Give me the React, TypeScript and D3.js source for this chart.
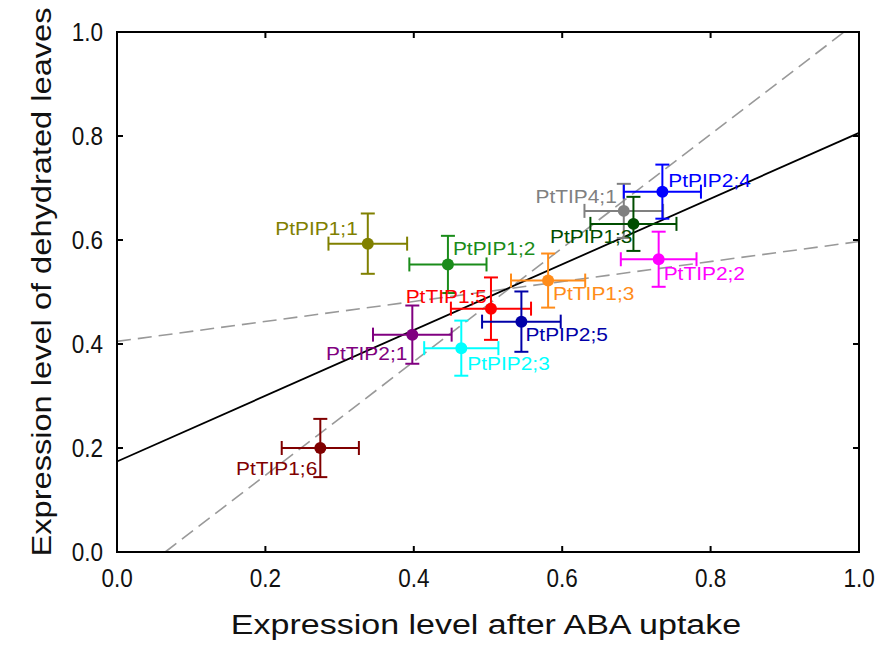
import React from "react";
import * as d3 from "d3";

// ---- data ----
const names = ["PtPIP1;1", "PtPIP1;2", "PtTIP1;5", "PtTIP1;3", "PtPIP2;5", "PtTIP2;1", "PtPIP2;3", "PtTIP1;6", "PtTIP4;1", "PtPIP2;4", "PtPIP1;3", "PtTIP2;2"];
const xValues = [0.338, 0.446, 0.504, 0.581, 0.545, 0.398, 0.464, 0.274, 0.683, 0.735, 0.696, 0.730];
const yValues = [0.593, 0.553, 0.468, 0.522, 0.443, 0.418, 0.392, 0.200, 0.656, 0.693, 0.631, 0.563];
const xErrors = [0.053, 0.052, 0.054, 0.050, 0.053, 0.053, 0.050, 0.052, 0.053, 0.052, 0.058, 0.051];
const yErrors = [0.058, 0.055, 0.060, 0.052, 0.058, 0.056, 0.053, 0.056, 0.052, 0.052, 0.052, 0.053];
const colors = ["#808000", "#1a8c1a", "#ff0000", "#ff8c1a", "#0000a8", "#800080", "#00ffff", "#800000", "#808080", "#0000ff", "#004d00", "#ff00ff"];

// regression line and dashed lines, as [x, y] end points in data units
const fitLine: [number, number][] = [[0, 0.174], [1, 0.806]];
const dashedSteep: [number, number][] = [[0.065, 0], [0.98, 1.0]];
const dashedFlat: [number, number][] = [[0, 0.405], [1, 0.597]];

const xTicks = [0, 0.2, 0.4, 0.6, 0.8, 1.0];
const yTicks = [0, 0.2, 0.4, 0.6, 0.8, 1.0];
const xTitle = "Expression level after ABA uptake";
const yTitle = "Expression level of dehydrated leaves";

// ---- layout (label offsets in px relative to point; anchor) ----
const labelLayout: { dx: number; dy: number; anchor: "start" | "end" }[] = [
  { dx: -10, dy: -9, anchor: "end" },
  { dx: 5, dy: -9, anchor: "start" },
  { dx: -4, dy: -6, anchor: "end" },
  { dx: 5, dy: 19, anchor: "start" },
  { dx: 4, dy: 19, anchor: "start" },
  { dx: -5, dy: 25, anchor: "end" },
  { dx: 6, dy: 22, anchor: "start" },
  { dx: -3, dy: 27, anchor: "end" },
  { dx: -7, dy: -8, anchor: "end" },
  { dx: 6, dy: -5, anchor: "start" },
  { dx: -1, dy: 19, anchor: "end" },
  { dx: 5, dy: 21, anchor: "start" },
];

const W = 881;
const H = 651;
const left = 117, right = 859, top = 32, bottom = 552;

export default function App() {
  const x = d3.scaleLinear().domain([0, 1]).range([left, right]);
  const y = d3.scaleLinear().domain([0, 1]).range([bottom, top]);
  const line = d3.line<[number, number]>().x((d) => x(d[0])).y((d) => y(d[1]));
  const font = "Arial, 'Liberation Sans', sans-serif";
  const cap = 7;
  const tickLen = 6;

  const labelScale = 1.1;

  return (
    <svg width={W} height={H} style={{ position: "absolute", left: 0, top: 0, background: "#fff" }} fontFamily={font}>
      <rect width={W} height={H} fill="#fff" />
      {/* lines */}
      <path d={line(dashedFlat) || ""} stroke="#999" strokeWidth={1.6} strokeDasharray="14,7" fill="none" />
      <path d={line(dashedSteep) || ""} stroke="#999" strokeWidth={1.6} strokeDasharray="14,7" fill="none" />
      <path d={line(fitLine) || ""} stroke="#000" strokeWidth={1.8} fill="none" />

      {/* points with error bars */}
      {names.map((n, i) => {
        const cx = x(xValues[i]);
        const cy = y(yValues[i]);
        const x0 = x(xValues[i] - xErrors[i]);
        const x1 = x(xValues[i] + xErrors[i]);
        const y0 = y(yValues[i] - yErrors[i]);
        const y1 = y(yValues[i] + yErrors[i]);
        const c = colors[i];
        return (
          <g key={n} stroke={c} strokeWidth={2} fill="none">
            <line x1={x0} x2={x1} y1={cy} y2={cy} />
            <line x1={x0} x2={x0} y1={cy - cap} y2={cy + cap} />
            <line x1={x1} x2={x1} y1={cy - cap} y2={cy + cap} />
            <line x1={cx} x2={cx} y1={y0} y2={y1} />
            <line x1={cx - cap} x2={cx + cap} y1={y0} y2={y0} />
            <line x1={cx - cap} x2={cx + cap} y1={y1} y2={y1} />
            <circle cx={cx} cy={cy} r={6} fill={c} stroke="none" />
          </g>
        );
      })}

      {/* labels */}
      {names.map((n, i) => {
        const L = labelLayout[i];
        const px = x(xValues[i]) + L.dx;
        const py = y(yValues[i]) + L.dy;
        return (
          <text
            key={"l" + n}
            transform={`translate(${px},${py}) scale(${labelScale},1)`}
            textAnchor={L.anchor}
            fontSize={19}
            fill={colors[i]}
          >
            {n}
          </text>
        );
      })}

      {/* frame */}
      <rect x={left} y={top} width={right - left} height={bottom - top} fill="none" stroke="#000" strokeWidth={2} />
      {/* ticks */}
      {xTicks.slice(1, -1).map((t) => (
        <g key={"xt" + t} stroke="#000" strokeWidth={2}>
          <line x1={x(t)} x2={x(t)} y1={bottom} y2={bottom - tickLen} />
          <line x1={x(t)} x2={x(t)} y1={top} y2={top + tickLen} />
        </g>
      ))}
      {yTicks.slice(1, -1).map((t) => (
        <g key={"yt" + t} stroke="#000" strokeWidth={2}>
          <line x1={left} x2={left + tickLen} y1={y(t)} y2={y(t)} />
          <line x1={right} x2={right - tickLen} y1={y(t)} y2={y(t)} />
        </g>
      ))}
      {/* tick labels */}
      {xTicks.map((t) => (
        <text key={"xl" + t} transform={`translate(${x(t)},587) scale(0.9,1)`} textAnchor="middle" fontSize={25} fill="#111">
          {d3.format(".1f")(t)}
        </text>
      ))}
      {yTicks.map((t) => (
        <text key={"yl" + t} transform={`translate(103,${y(t) + 9}) scale(0.9,1)`} textAnchor="end" fontSize={25} fill="#111">
          {d3.format(".1f")(t)}
        </text>
      ))}
      {/* axis titles */}
      <text transform={`translate(${(left + right) / 2 - 2},634) scale(1.215,1)`} textAnchor="middle" fontSize={28} fill="#111">
        {xTitle}
      </text>
      <text transform={`translate(51,${(top + bottom) / 2 - 10}) rotate(-90) scale(1.165,1)`} textAnchor="middle" fontSize={28} fill="#111">
        {yTitle}
      </text>
    </svg>
  );
}
